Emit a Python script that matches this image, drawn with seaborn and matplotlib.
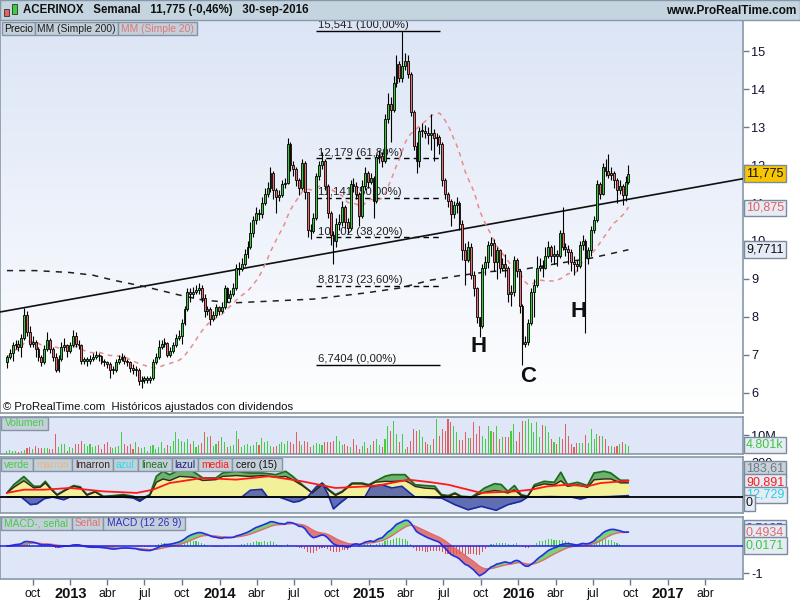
import numpy as np
import pandas as pd
import matplotlib
matplotlib.use("Agg")
import matplotlib.pyplot as plt
import matplotlib.dates as mdates
from matplotlib.patches import Rectangle
from matplotlib.colors import LinearSegmentedColormap
import seaborn as sns

# ---------------- data ----------------
first_week = "2012-07-30"
first_open = 6.80

closes = [
    6.95, 7.05, 7.25, 7.30, 7.20, 7.45, 8.05, 7.60, 7.30, 7.35,
    7.15, 6.95, 6.80, 7.15, 7.40, 7.15, 6.95, 6.60, 6.90, 7.20,
    7.25, 7.10, 7.25, 7.50, 7.30, 7.25, 6.85, 6.85, 6.85, 6.90,
    6.95, 7.00, 6.97, 6.82, 6.80, 6.75, 6.60, 6.60, 6.80, 6.90,
    6.95, 6.85, 6.80, 6.65, 6.60, 6.60, 6.30, 6.35, 6.35, 6.35,
    6.38, 6.80, 6.95, 7.20, 7.30, 7.32, 7.00, 7.10, 7.25, 7.45,
    7.50, 7.85, 8.20, 8.65, 8.60, 8.65, 8.70, 8.75, 8.50, 8.15,
    8.20, 7.95, 8.05, 8.25, 8.15, 8.25, 8.75, 8.50, 8.60, 8.75,
    9.30, 9.25, 9.40, 9.65, 9.85, 10.20, 10.55, 10.75, 10.70, 11.00,
    11.25, 11.40, 11.80, 11.35, 11.15, 11.20, 11.50, 11.52, 12.55, 12.00,
    11.90, 11.60, 11.40, 12.05, 11.30, 10.30, 10.25, 10.60, 11.70, 12.00,
    12.10, 11.45, 10.75, 10.15, 10.00, 10.45, 10.50, 10.90, 10.50, 10.35,
    11.50, 11.45, 11.25, 10.65, 11.45, 11.80, 11.55, 11.65, 11.05, 12.20,
    12.25, 12.10, 13.20, 13.60, 13.45, 14.15, 14.65, 14.30, 14.60, 14.75,
    14.40, 13.40, 12.50, 12.10, 12.90, 12.90, 12.85, 12.80, 12.85, 12.70,
    12.75, 12.55, 11.60, 11.25, 11.05, 10.70, 10.95, 11.00, 10.45, 9.75,
    9.50, 9.85, 9.10, 8.75, 8.00, 7.75, 9.30, 9.45, 9.90, 9.95,
    9.45, 9.75, 9.30, 9.40, 9.30, 8.60, 8.65, 9.50, 9.20, 8.30,
    7.30, 7.35, 7.85, 8.65, 8.85, 9.30, 9.35, 9.30, 9.60, 9.85,
    9.60, 9.65, 9.60, 10.20, 9.85, 9.80, 9.70, 9.45, 9.40, 9.35,
    9.90, 10.00, 9.55, 9.75, 10.30, 10.55, 11.50, 11.25, 11.95, 11.85,
    11.75, 11.80, 11.60, 11.35, 11.45, 11.20, 11.55, 11.775,
]
highs = [
    7.00, 7.15, 7.35, 7.40, 7.40, 7.55, 8.24, 8.15, 7.75, 7.50,
    7.40, 7.20, 7.00, 7.25, 7.60, 7.45, 7.20, 7.05, 7.00, 7.35,
    7.45, 7.30, 7.35, 7.65, 7.60, 7.40, 7.30, 6.95, 6.95, 7.00,
    7.05, 7.10, 7.05, 7.00, 6.90, 6.85, 6.80, 6.70, 6.90, 7.00,
    7.05, 7.00, 6.90, 6.85, 6.75, 6.70, 6.65, 6.45, 6.45, 6.45,
    6.45, 6.90, 7.05, 7.40, 7.40, 7.45, 7.35, 7.20, 7.35, 7.55,
    7.65, 7.95, 8.30, 8.75, 8.75, 8.80, 8.85, 8.90, 8.85, 8.60,
    8.30, 8.25, 8.15, 8.35, 8.30, 8.40, 8.85, 8.80, 8.70, 8.90,
    9.40, 9.45, 9.55, 9.80, 10.00, 10.50, 10.65, 10.90, 10.85, 11.15,
    11.40, 11.55, 11.95, 11.85, 11.40, 11.35, 11.60, 11.65, 12.70, 12.60,
    12.10, 11.95, 11.65, 12.15, 12.10, 11.30, 10.45, 10.75, 11.80, 12.10,
    12.35, 12.15, 11.50, 10.80, 10.25, 10.60, 10.70, 11.05, 10.95, 10.60,
    11.60, 11.65, 11.55, 11.30, 11.60, 11.95, 11.85, 11.80, 11.70, 12.30,
    12.40, 12.35, 13.35, 13.90, 13.80, 14.35, 14.90, 14.75, 15.541, 14.95,
    14.90, 14.45, 13.45, 12.60, 13.00, 13.10, 13.05, 13.00, 13.35, 12.95,
    12.85, 12.80, 12.60, 11.65, 11.30, 11.10, 11.05, 11.15, 11.05, 10.55,
    9.95, 10.00, 9.95, 9.20, 8.80, 8.00, 9.40, 9.60, 10.00, 10.10,
    10.05, 9.85, 9.80, 9.55, 9.65, 9.35, 8.85, 9.60, 9.55, 9.25,
    8.35, 7.50, 7.95, 8.75, 9.00, 9.60, 9.55, 9.50, 9.85, 10.00,
    9.90, 9.90, 9.75, 10.30, 10.90, 9.95, 9.90, 9.80, 9.60, 9.50,
    10.00, 10.15, 10.05, 9.85, 10.40, 10.65, 11.60, 11.55, 12.05, 12.15,
    12.30, 11.95, 11.85, 11.65, 11.60, 11.50, 11.70, 12.00,
]
lows = [
    6.65, 6.90, 6.85, 7.15, 7.10, 6.95, 7.40, 7.50, 7.20, 7.20,
    6.95, 6.85, 6.70, 6.75, 7.10, 7.05, 6.85, 6.55, 6.55, 6.85,
    7.10, 6.95, 7.05, 7.20, 7.20, 7.15, 6.75, 6.75, 6.70, 6.75,
    6.85, 6.90, 6.85, 6.75, 6.70, 6.65, 6.40, 6.50, 6.55, 6.75,
    6.85, 6.75, 6.70, 6.55, 6.50, 6.45, 6.20, 6.13, 6.25, 6.25,
    6.25, 6.35, 6.75, 6.90, 7.15, 7.20, 6.95, 6.95, 7.05, 7.20,
    7.40, 7.30, 7.80, 8.15, 8.40, 8.50, 8.60, 8.60, 8.40, 8.00,
    8.05, 7.80, 7.90, 8.00, 8.05, 8.10, 8.20, 8.40, 8.40, 8.55,
    8.70, 9.10, 9.20, 9.35, 9.55, 9.80, 10.10, 10.45, 10.55, 10.60,
    10.95, 11.15, 11.30, 11.10, 10.75, 11.05, 11.15, 11.40, 11.50, 11.85,
    11.70, 11.45, 11.20, 11.35, 11.10, 10.10, 10.05, 10.20, 10.55, 11.60,
    11.90, 11.35, 10.60, 9.90, 9.40, 9.85, 10.30, 10.40, 10.35, 10.20,
    10.30, 11.30, 11.10, 10.40, 10.60, 11.35, 11.40, 11.50, 10.60, 11.00,
    12.05, 11.95, 12.05, 13.10, 12.60, 13.40, 14.05, 14.20, 14.20, 14.50,
    14.30, 13.30, 12.40, 11.80, 11.95, 12.75, 12.70, 12.55, 12.40, 12.10,
    12.50, 12.30, 11.45, 11.10, 10.90, 10.40, 10.60, 10.75, 10.30, 9.50,
    8.85, 9.45, 9.00, 8.55, 7.85, 7.47, 7.70, 9.10, 9.30, 9.60,
    9.20, 9.00, 9.15, 9.20, 9.05, 8.40, 8.30, 8.55, 9.05, 8.10,
    6.74, 7.20, 7.25, 7.80, 8.00, 8.80, 9.20, 9.05, 9.25, 9.55,
    9.45, 9.40, 9.35, 9.55, 9.75, 9.60, 9.40, 9.20, 9.10, 9.20,
    9.30, 9.75, 7.58, 9.40, 9.60, 10.20, 10.50, 11.10, 11.20, 11.70,
    11.65, 11.60, 11.40, 11.00, 11.25, 10.95, 11.05, 11.50,
]
volume_m = [
    1.8, 2.1, 1.4, 1.8, 1.1, 1.8, 2.1, 3.2, 3.5, 2.6,
    4.4, 3.2, 3.2, 3.2, 3.2, 2.6, 2.6, 10.5, 3.5, 5.3,
    5.3, 1.8, 3.5, 3.2, 5.3, 5.3, 7.0, 5.3, 4.4, 5.3,
    3.5, 4.4, 4.9, 2.6, 5.3, 6.1, 3.5, 3.2, 3.5, 4.0,
    11.4, 5.3, 4.4, 5.3, 2.6, 6.1, 3.9, 3.2, 3.5, 1.8,
    4.4, 4.9, 2.6, 3.5, 6.1, 3.2, 5.0, 4.0, 7.0, 11.4,
    7.9, 6.7, 6.1, 7.9, 5.3, 7.0, 3.9, 4.9, 6.0, 11.4,
    8.8, 9.6, 4.4, 5.3, 7.0, 8.8, 6.1, 3.5, 4.0, 5.0,
    12.3, 7.9, 3.5, 4.9, 5.3, 4.4, 4.9, 6.1, 4.9, 8.4,
    6.1, 7.0, 4.4, 3.5, 4.4, 5.3, 6.1, 5.3, 7.0, 6.5,
    5.3, 11.4, 7.0, 4.9, 6.7, 6.1, 3.5, 4.9, 5.6, 5.3,
    4.9, 6.1, 6.1, 6.1, 7.0, 9.6, 7.0, 4.9, 5.3, 4.4,
    3.5, 7.9, 4.9, 2.6, 4.4, 6.1, 3.2, 4.9, 7.0, 7.9,
    4.9, 3.9, 7.9, 14.9, 12.0, 17.5, 10.5, 6.1, 10.5, 2.6,
    3.5, 7.0, 13.2, 12.3, 12.6, 8.8, 6.1, 5.3, 4.9, 7.9,
    18.4, 9.6, 13.2, 12.3, 18.4, 16.7, 14.9, 11.4, 7.4, 7.4,
    11.4, 8.4, 8.4, 16.7, 10.5, 14.9, 9.6, 7.9, 14.9, 12.3,
    11.4, 14.9, 7.9, 8.8, 8.8, 8.8, 12.3, 15.8, 7.0, 11.4,
    17.5, 17.5, 18.4, 16.1, 11.4, 16.7, 8.8, 15.4, 14.9, 11.4,
    7.9, 6.1, 5.3, 8.8, 7.9, 15.8, 9.6, 5.3, 3.5, 5.8,
    5.8, 5.8, 10.2, 5.8, 13.2, 7.9, 10.5, 9.6, 9.6, 7.9,
    4.4, 4.4, 3.9, 4.4, 5.3, 6.1, 5.3, 4.4,
]

# MM (Simple 200) (week index, value)
sma200_week = [0, 10, 22, 30, 37, 48, 60, 68, 79, 107, 125, 137, 148, 159, 168, 180, 191, 204, 217]
sma200_val = [9.22, 9.22, 9.17, 9.10, 8.97, 8.80, 8.58, 8.45, 8.37, 8.47, 8.63, 8.76, 8.97,
              9.10, 9.19, 9.25, 9.39, 9.55, 9.77]

# custom oscillator panel (week index, value)
osc_week = [0, 2.4, 5.9, 9.4, 11.7, 13.4, 15.2, 17.5, 20.4, 23.3, 25.6, 27.9, 30.8, 33.7, 37.2,
            40.6, 44.1, 46.4, 49.9, 52.2, 54.5, 56.8, 60.3, 64.9, 68.4, 73.0, 75.3, 80.0, 84.6,
            89.2, 93.9, 97.3, 99.7, 103.1, 106.6, 110.1, 112.4, 114.7, 117.0, 120.5, 124.0,
            126.3, 128.6, 132.1, 134.4, 139.0, 140.7, 142.5, 145.9, 149.4, 151.7, 154.1, 156.4,
            158.7, 162.2, 164.5, 166.8, 170.3, 172.6, 174.9, 177.2, 179.5, 181.8, 184.2, 187.6,
            191.1, 193.4, 195.7, 199.2, 202.7, 205.0, 208.5, 210.8, 214.2, 217.0]
osc_verde = [24, 72, 120, 63, 63, 92, 53, 14, 43, 67, 59, 14, 33, 4, 8, 14, 4, -16, 14, 122,
             151, 131, 161, 151, 112, 112, 141, 151, 141, 141, 131, 151, 122, 72, 24, 82, 43, 14,
             33, 82, 82, 72, 92, 122, 131, 131, 102, 72, 67, 63, 14, 8, 24, 4, 0, 24, 53, 78, 73,
             33, 67, 14, 4, 72, 92, 86, 145, 73, 86, 67, 141, 151, 141, 98, 98]
osc_marron = [24, 57, 95, 53, 58, 82, 48, 10, 39, 62, 55, 10, 29, 0, 4, 10, 0, -20, 10, 87,
              106, 96, 121, 116, 97, 102, 121, 126, 121, 126, 116, 121, 102, 67, 24, 72, 38, 9,
              28, 77, 77, 67, 87, 92, 91, 96, 82, 62, 52, 48, 9, 3, 19, 0, -4, 14, 28, 38, 33,
              23, 42, 9, 4, 62, 77, 71, 95, 63, 71, 57, 101, 106, 106, 83, 83]
azul_week = [0, 5, 8.2, 10.5, 13, 16, 19.8, 22, 30, 40, 44, 46.4, 48.5, 60, 82, 85, 89, 91, 95,
             100, 102, 105, 108, 110, 112, 114, 116, 119, 125, 127, 130.9, 134.4, 137.9, 141.4,
             142.5, 151.7, 156.4, 161.0, 165.6, 170.8, 174.9, 179.5, 181.8, 190, 197, 200.3,
             203, 210, 217]
osc_azul = [0, 0, -45, -40, -10, 0, -16, 0, 0, 0, -5, -25, 0, 0, 0, 40, 45, 0, 0, -30, -25, 0,
            60, 80, 20, -70, -40, 0, 0, 60, 72, 53, 63, 14, 0, -6, -45, -75, -55, -78, -45, -25,
            0, 2, 0, -12, 0, 2, 8]
media_week = [0, 5.9, 12.9, 22.1, 33.7, 45.3, 51.0, 56.8, 68.4, 80.0, 91.6, 103.1, 114.7, 126.3,
              131.0, 140.2, 148.3, 154.1, 165.6, 177.2, 183.0, 188.8, 195.7, 202.7, 207.3, 217.0]
osc_media = [24, 43, 43, 53, 33, 24, 43, 82, 112, 102, 122, 92, 53, 63, 72, 102, 86, 72, 24,
             33, 43, 63, 72, 63, 82, 95]

fib_levels = [15.541, 12.179, 11.141, 10.102, 8.8173, 6.7404]
fib_labels = ["15,541 (100,00%)", "12,179 (61,80%)", "11,141 (50,00%)", "10,102 (38,20%)",
              "8,8173 (23,60%)", "6,7404 (0,00%)"]
fib_start, fib_end = "2014-08-25", "2015-06-23"
trend_pts = [("2012-07-13", 8.13), ("2017-07-03", 11.64)]
pattern_labels = ["H", "C", "H"]
pattern_dates = ["2015-09-25", "2016-01-25", "2016-05-26"]
pattern_prices = [7.21, 6.42, 8.13]
price_ticks = [6, 7, 8, 9, 10, 11, 12, 13, 14, 15]
header_text = "ACERINOX   Semanal   11,775 (-0,46%)   30-sep-2016"

# ---------------- derived with pandas ----------------
dates = pd.date_range(first_week, periods=len(closes), freq="7D")
df = pd.DataFrame({"date": dates, "close": closes, "high": highs, "low": lows, "vol": volume_m})
df["open"] = df["close"].shift(1).fillna(first_open)
df["high"] = np.maximum(df["high"], np.maximum(df["open"], df["close"]))
df["low"] = np.minimum(df["low"], np.minimum(df["open"], df["close"]))
df["sma20"] = df["close"].rolling(20, min_periods=1).mean()
ema12 = df["close"].ewm(span=12, adjust=False).mean()
ema26 = df["close"].ewm(span=26, adjust=False).mean()
df["macd"] = ema12 - ema26
df["signal"] = df["macd"].ewm(span=9, adjust=False).mean()
df["hist"] = df["macd"] - df["signal"]

d0 = mdates.date2num(pd.Timestamp(first_week))
x = mdates.date2num(df["date"])
def wk(idx):
    return d0 + 7.0 * np.asarray(idx, dtype=float)

up = (df["close"] >= df["open"]).values
GREEN, RED = "#3cc83c", "#e86f6f"

# ---------------- figure ----------------
sns.set_theme(style="white")
plt.rcParams["font.family"] = ["Liberation Sans", "DejaVu Sans"]
W, H = 800, 600
fig = plt.figure(figsize=(8, 6), dpi=100, facecolor="white")

def rect(x0, y0, x1, y1):
    return [x0 / W, 1 - y1 / H, (x1 - x0) / W, (y1 - y0) / H]

ax = fig.add_axes(rect(0, 20, 743, 413))
axv = fig.add_axes(rect(0, 417, 743, 454), sharex=ax)
axo = fig.add_axes(rect(0, 457, 743, 513), sharex=ax)
axm = fig.add_axes(rect(0, 517, 743, 579), sharex=ax)

# header
fig.patches.append(Rectangle((0, 1 - 20 / H), 1, 20 / H, transform=fig.transFigure,
                             fc="#c4d5e0", ec="#8898a8", lw=1, zorder=1))
fig.patches.append(Rectangle((4 / W, 1 - 16 / H), 5 / W, 7 / H, transform=fig.transFigure,
                             fc="#e86060", ec="#303030", lw=0.6, zorder=2))
fig.patches.append(Rectangle((12 / W, 1 - 14 / H), 5 / W, 10 / H, transform=fig.transFigure,
                             fc="#3cd03c", ec="#303030", lw=0.6, zorder=2))
fig.text(23 / W, 1 - 10.5 / H, header_text, fontsize=8.3, fontweight="bold", va="center",
         ha="left", color="#101010", zorder=3)
fig.text(796 / W, 1 - 10.5 / H, "www.ProRealTime.com", fontsize=8.6, fontweight="bold",
         va="center", ha="right", color="#101010", zorder=3)

# backgrounds
grad = np.linspace(0, 1, 256).reshape(-1, 1)
cmap_bg = LinearSegmentedColormap.from_list("bg", ["#ffffff", "#dce5f6"])
ax.imshow(grad, extent=[0, 1, 1, 0], transform=ax.transAxes, aspect="auto", cmap=cmap_bg,
          zorder=0)
for a in (axv, axo, axm):
    a.set_facecolor("#dfe6f7")

# ---------------- price panel ----------------
fx0 = mdates.date2num(pd.Timestamp(fib_start))
fx1 = mdates.date2num(pd.Timestamp(fib_end))
for k, (lv, lb) in enumerate(zip(fib_levels, fib_labels)):
    ls = "solid" if k in (0, len(fib_levels) - 1) else (0, (4, 3))
    ax.hlines(lv, fx0, fx1, colors="black", lw=1.0, linestyles=ls, zorder=2)
    ax.text(fx0 + 5, lv + 0.015, lb, fontsize=8.2, va="bottom", ha="left", color="#202020",
            zorder=2)

(ta, pa), (tb, pb) = trend_pts
ax.axline((mdates.date2num(pd.Timestamp(ta)), pa), (mdates.date2num(pd.Timestamp(tb)), pb),
          color="#101010", lw=1.2, zorder=3)

sns.lineplot(x=wk(sma200_week), y=sma200_val, ax=ax, color="#202020", linewidth=1.1,
             linestyle=(0, (4, 4)), estimator=None, sort=False, legend=False, zorder=3)
sns.lineplot(x=x, y=df["sma20"].values, ax=ax, color="#e88c8c", linewidth=1.1,
             linestyle=(0, (3, 3)), estimator=None, sort=False, legend=False, zorder=3)

ax.vlines(x, df["low"], df["high"], color="black", lw=0.8, zorder=4)
body_lo = np.minimum(df["open"], df["close"])
body_h = np.maximum((df["close"] - df["open"]).abs(), 0.03)
ax.bar(x, body_h, bottom=body_lo, width=4.6, color=np.where(up, GREEN, RED),
       edgecolor="black", linewidth=0.6, zorder=5)

for t, d, p in zip(pattern_labels, pattern_dates, pattern_prices):
    ax.text(mdates.date2num(pd.Timestamp(d)), p, t, fontsize=16, fontweight="bold",
            ha="center", va="center", color="#101010", zorder=6)

ax.text(0.004, 0.014, "\u00a9 ProRealTime.com  Hist\u00f3ricos ajustados con dividendos",
        transform=ax.transAxes, fontsize=8.2, va="center", ha="left", color="#101010", zorder=6)

ax.set_ylim(5.47, 15.82)
ax.set_yticks(price_ticks)
ax.set_yticklabels([str(t) for t in price_ticks])
for lbl, t in zip(ax.get_yticklabels(), price_ticks):
    if t % 5 == 0:
        lbl.set_fontweight("bold")

# ---------------- volume ----------------
axv.bar(x, df["vol"], width=2.6, color=np.where(up, "#44cc44", "#e06060"), linewidth=0,
        zorder=3)
axv.set_ylim(0, 19.5)
axv.set_yticks([10])
axv.set_yticklabels(["10M"])

# ---------------- oscillator ----------------
ox = wk(osc_week)
axo.fill_between(ox, osc_marron, osc_verde, color="#5fae5f", alpha=0.9, lw=0, zorder=2)
axo.fill_between(ox, 0, osc_marron, color="#f3f09a", lw=0, zorder=2)
axo.fill_between(wk(azul_week), 0, osc_azul, color="#4a5aa8", alpha=0.85, lw=0, zorder=3)
sns.lineplot(x=ox, y=osc_verde, ax=axo, color="#1d6b1d", linewidth=1.3, estimator=None,
             sort=False, legend=False, zorder=4)
sns.lineplot(x=ox, y=osc_marron, ax=axo, color="#3a2418", linewidth=1.0, estimator=None,
             sort=False, legend=False, zorder=4)
sns.lineplot(x=wk(azul_week), y=osc_azul, ax=axo, color="#1a2aa0", linewidth=1.2,
             estimator=None, sort=False, legend=False, zorder=4)
sns.lineplot(x=wk(media_week), y=osc_media, ax=axo, color="#ff1a1a", linewidth=1.3,
             estimator=None, sort=False, legend=False, zorder=5)
axo.axhline(0, color="black", lw=1.3, zorder=5)
axo.set_ylim(-94, 235)
axo.set_yticks([200])
axo.set_yticklabels(["200"])

# ---------------- MACD ----------------
mv, sv = df["macd"].values, df["signal"].values
axm.fill_between(x, mv, sv, where=mv >= sv, interpolate=True, color="#78d478", lw=0, zorder=2)
axm.fill_between(x, mv, sv, where=mv < sv, interpolate=True, color="#e07a7a", lw=0, zorder=2)
axm.bar(x, df["hist"], width=2.6, color=np.where(df["hist"] >= 0, "#44cc44", "#e05050"),
        linewidth=0, zorder=3)
sns.lineplot(x=x, y=sv, ax=axm, color="#e06a6a", linewidth=1.0, estimator=None, sort=False,
             legend=False, zorder=4)
sns.lineplot(x=x, y=mv, ax=axm, color="#2030e0", linewidth=1.2, estimator=None, sort=False,
             legend=False, zorder=4)
axm.axhline(0, color="#2020e0", lw=1.1, zorder=4)
axm.set_ylim(-1.22, 1.07)
axm.set_yticks([-1])
axm.set_yticklabels(["-1"])

# ---------------- axes styling ----------------
xl0 = mdates.date2num(pd.Timestamp("2012-07-13"))
xl1 = mdates.date2num(pd.Timestamp("2017-07-03"))
ticks, tlabels = [], []
mnames = {4: "abr", 7: "jul", 10: "oct"}
for d in pd.date_range("2012-10-01", "2017-04-01", freq="QS-JAN"):
    ticks.append(mdates.date2num(d))
    tlabels.append(str(d.year) if d.month == 1 else mnames[d.month])
for a in (ax, axv, axo, axm):
    a.grid(False)
    a.set_xlim(xl0, xl1)
    a.yaxis.tick_right()
    a.tick_params(axis="y", which="both", direction="out", length=4, width=1, colors="#6a7a8a",
                  labelcolor="#101030", labelsize=9.2, pad=2, right=True, left=False)
    for s in a.spines.values():
        s.set_color("#8898a8")
        s.set_linewidth(1.2)
    a.set_xlabel("")
    a.set_ylabel("")
for a in (ax, axv, axo):
    a.tick_params(axis="x", bottom=False, labelbottom=False)
axm.set_xticks(ticks)
axm.set_xticklabels(tlabels)
axm.tick_params(axis="x", direction="out", length=4, width=1, colors="#6a7a8a",
                labelcolor="#101010", labelsize=8.8, pad=6.5, bottom=True)
for lbl in axm.get_xticklabels():
    lbl.set_verticalalignment("center")
    if lbl.get_text().isdigit():
        lbl.set_fontweight("bold")
        lbl.set_fontsize(10.5)

# ---------------- right-hand value boxes ----------------
def side_box(a, y, text, fc, tc):
    a.text(1.004, y, text, transform=a.get_yaxis_transform(), ha="left", va="center",
           fontsize=9, color=tc, zorder=30, clip_on=False,
           bbox=dict(boxstyle="square,pad=0.18", fc=fc, ec="#7b8b9b", lw=1))

side_box(ax, 11.775, "11,775", "#f7c600", "#101010")
side_box(ax, 10.875, "10,875", "#e6ecf6", "#e06060")
side_box(ax, 9.7711, "9,7711", "#e6ecf6", "#101010")
side_box(axv, 4.7, "4.801k", "#e6ecf6", "#3cc83c")
side_box(axo, 165, "183,61", "#c8d0d8", "#6a7a8a")
side_box(axo, 88, "90,891", "#e6ecf6", "#ff1a1a")
side_box(axo, 12, "12,729", "#e6ecf6", "#22d0e0")
side_box(axo, -35, "0", "#e6ecf6", "#101010")
side_box(axm, 0.66, "0,5185", "#e6ecf6", "#2030e0")
side_box(axm, 0.4934, "0,4934", "#e6ecf6", "#e06a6a")
side_box(axm, 0.0171, "0,0171", "#e6ecf6", "#3cc83c")

# ---------------- panel legend boxes ----------------
def fig_box(x0, x1, y0, y1, text, color):
    fig.patches.append(Rectangle((x0 / W, 1 - y1 / H), (x1 - x0) / W, (y1 - y0) / H,
                                 transform=fig.transFigure, fc="#c3cfd9", ec="#8494a4",
                                 lw=1, zorder=20))
    fig.text((x0 + x1) / 2 / W, 1 - (y0 + y1) / 2 / H, text, ha="center", va="center",
             fontsize=7.4, color=color, zorder=21)

fig_box(2, 35, 22, 35, "Precio", "#101010")
fig_box(35, 118, 22, 35, "MM (Simple 200)", "#202020")
fig_box(118, 197, 22, 35, "MM (Simple 20)", "#e07878")
fig_box(1, 48, 417, 430, "Volumen", "#44cc44")
for x0_, x1_, t, c in [(1, 33, "verde", "#44cc44"), (33, 72, "marron", "#e8b880"),
                       (72, 113, "lmarron", "#402020"), (113, 138, "azul", "#22e0f0"),
                       (138, 172, "lineav", "#207020"), (172, 198, "lazul", "#202080"),
                       (198, 232, "media", "#ff1a1a"), (232, 282, "cero (15)", "#101010")]:
    fig_box(x0_, x1_, 458, 471, t, c)
for x0_, x1_, t, c in [(1, 72, "MACD-, se\u00f1al", "#44cc44"), (72, 103, "Se\u00f1al", "#e07070"),
                       (103, 185, "MACD (12 26 9)", "#3030c0")]:
    fig_box(x0_, x1_, 517, 530, t, c)

fig.savefig("out.png", dpi=100, facecolor="white")
